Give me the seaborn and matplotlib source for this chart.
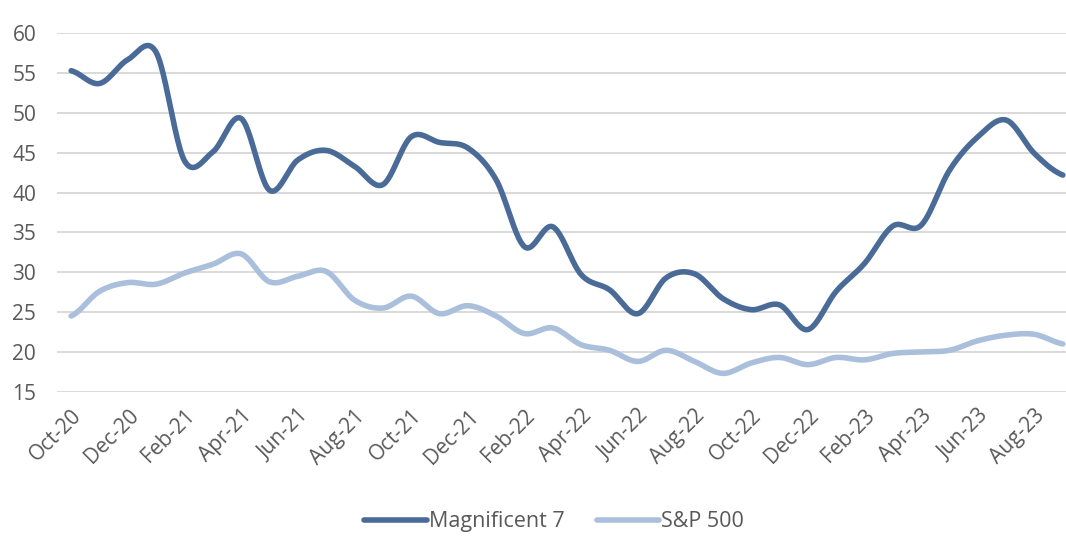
import numpy as np
import pandas as pd
import seaborn as sns
import matplotlib.pyplot as plt
from matplotlib.lines import Line2D

# Monthly data, Oct-20 .. Sep-23
months = ["Oct-20", "Nov-20", "Dec-20", "Jan-21", "Feb-21", "Mar-21", "Apr-21", "May-21",
          "Jun-21", "Jul-21", "Aug-21", "Sep-21", "Oct-21", "Nov-21", "Dec-21", "Jan-22",
          "Feb-22", "Mar-22", "Apr-22", "May-22", "Jun-22", "Jul-22", "Aug-22", "Sep-22",
          "Oct-22", "Nov-22", "Dec-22", "Jan-23", "Feb-23", "Mar-23", "Apr-23", "May-23",
          "Jun-23", "Jul-23", "Aug-23", "Sep-23"]

mag7 = [55.3, 53.7, 56.7, 57.6, 44.0, 45.1, 49.3, 40.3, 44.1, 45.3, 43.3, 41.0,
        47.0, 46.3, 45.6, 41.6, 33.2, 35.7, 29.7, 27.8, 24.8, 29.3, 29.8, 26.7,
        25.3, 25.9, 22.8, 27.6, 31.1, 35.8, 35.9, 42.8, 47.0, 49.1, 44.9, 42.2]

sp500 = [24.5, 27.6, 28.7, 28.5, 29.9, 31.0, 32.3, 28.8, 29.5, 30.1, 26.5, 25.5,
         27.0, 24.8, 25.8, 24.5, 22.3, 23.0, 20.9, 20.2, 18.8, 20.2, 18.8, 17.3,
         18.6, 19.3, 18.4, 19.3, 19.0, 19.8, 20.0, 20.2, 21.4, 22.1, 22.2, 21.0]

series_names = ["Magnificent 7", "S&P 500"]
colors = ["#4a6b98", "#a9bfdc"]


def smooth(values, n=24):
    # Catmull-Rom curve through the points, like Excel's smoothed line
    y = np.asarray(values, float)
    p = np.concatenate([[y[0]], y, [y[-1]]])
    xs, ys = [], []
    t = np.linspace(0, 1, n, endpoint=False)
    for i in range(len(y) - 1):
        p0, p1, p2, p3 = p[i], p[i + 1], p[i + 2], p[i + 3]
        seg = 0.5 * (2 * p1 + (-p0 + p2) * t + (2 * p0 - 5 * p1 + 4 * p2 - p3) * t ** 2
                     + (-p0 + 3 * p1 - 3 * p2 + p3) * t ** 3)
        xs.extend(i + t)
        ys.extend(seg)
    xs.append(len(y) - 1)
    ys.append(y[-1])
    return xs, ys


frames = []
for name, vals in zip(series_names, [mag7, sp500]):
    xs, ys = smooth(vals)
    frames.append(pd.DataFrame({"x": xs, "value": ys, "series": name}))
df = pd.concat(frames, ignore_index=True)

sns.set_style("white")
plt.rcParams["font.family"] = ["Open Sans", "DejaVu Sans"]

fig = plt.figure(figsize=(10.66, 5.58), dpi=100)
ax = fig.add_axes([57 / 1066, 1 - 391.7 / 558, 1020 / 1066, (391.7 - 33.3) / 558])

sns.lineplot(data=df, x="x", y="value", hue="series", palette=colors,
             linewidth=4, estimator=None, sort=False, legend=False, ax=ax,
             solid_capstyle="round", solid_joinstyle="round")

ax.set_xlim(-0.5, len(months) - 0.5)
ax.set_ylim(15, 60)
ax.set_yticks(range(15, 61, 5))
ax.set_xticks(range(0, len(months), 2))
ax.set_xticklabels(months[::2], rotation=45, ha="right", rotation_mode="anchor")
ax.set_xlabel("")
ax.set_ylabel("")
ax.grid(axis="y", color="#d9d9d9", linewidth=1.4)
ax.set_axisbelow(True)
for s in ax.spines.values():
    s.set_visible(False)
ax.tick_params(axis="y", length=0, pad=15, labelsize=15, labelcolor="#595959")
ax.tick_params(axis="x", length=0, pad=10, labelsize=15, labelcolor="#595959")

handles = [Line2D([0], [0], color=c, linewidth=4, solid_capstyle="round") for c in colors]
leg = fig.legend(handles, series_names, loc="center", bbox_to_anchor=(0.52, 0.065),
                 ncol=2, frameon=False, fontsize=15.5, handlelength=2.9,
                 handletextpad=0.1, columnspacing=1.5)
for t in leg.get_texts():
    t.set_color("#595959")

fig.savefig("out.png", dpi=100, facecolor="white")
